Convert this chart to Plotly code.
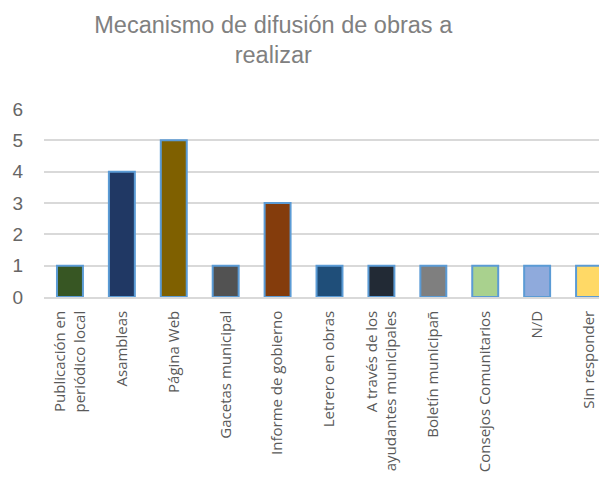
import plotly.graph_objects as go

categorias = ["Publicación en<br>periódico local", "Asambleas", "Página Web",
              "Gacetas municipal", "Informe de gobierno", "Letrero en obras",
              "A través de los<br>ayudantes municipales", "Boletín municipañ",
              "Consejos Comunitarios", "N/D", "Sin responder"]
valores = [1, 4, 5, 1, 3, 1, 1, 1, 1, 1, 1]
colores = ["#375623", "#203864", "#7F6000", "#525252", "#843C0C", "#1F4E79",
           "#222A35", "#7F7F7F", "#A9D18E", "#8FAADC", "#FFD966"]

fig = go.Figure(go.Bar(x=categorias, y=valores,
                       marker=dict(color=colores,
                                   line=dict(color="#5B9BD5", width=2)),
                       width=0.5))

# page body has an 8px margin, so everything is placed 8px up/left
fig.update_layout(title=dict(text="Mecanismo de difusión de obras a<br>realizar",
                             x=0.437, xanchor="center",
                             yref="container", y=0.949, yanchor="middle",
                             font=dict(family="Liberation Sans Narrow, Arial Narrow, sans-serif",
                                       size=23.5, color="#808080")),
                  width=607, height=485,
                  plot_bgcolor="white", paper_bgcolor="white",
                  margin=dict(l=36, r=0, t=101, b=196),
                  showlegend=False,
                  font=dict(family="Open Sans, sans-serif", color="#595959"))

fig.update_xaxes(tickangle=-90, tickfont=dict(size=15, color="#595959"),
                 showline=True, linecolor="#D9D9D9", linewidth=1.5,
                 ticks="", ticklen=0, ticklabelstandoff=6)
fig.update_yaxes(range=[0, 6], dtick=1, showgrid=True, gridcolor="#D9D9D9",
                 gridwidth=1.5, zeroline=False,
                 tickfont=dict(size=19, color="#666666",
                               family="Liberation Sans, Arial, sans-serif"),
                 ticklabelstandoff=20)

fig.write_html("out.html")
